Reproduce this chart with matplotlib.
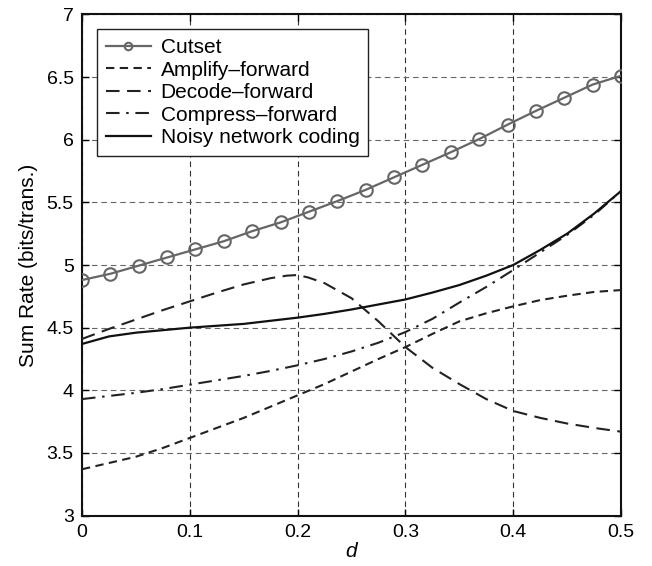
import numpy as np
import matplotlib
matplotlib.use("Agg")
import matplotlib.pyplot as plt

plt.rcParams['font.family'] = ['Liberation Sans', 'DejaVu Sans']

# ---- data ----
d_cut = np.linspace(0, 0.5, 20)
cutset = [4.88, 4.93, 4.995, 5.06, 5.125, 5.19, 5.27, 5.34, 5.425, 5.51,
          5.60, 5.70, 5.80, 5.90, 6.005, 6.12, 6.23, 6.335, 6.44, 6.51]

d_grid = [0, 0.025, 0.05, 0.075, 0.1, 0.125, 0.15, 0.175, 0.2, 0.225, 0.25,
          0.275, 0.3, 0.325, 0.35, 0.375, 0.4, 0.425, 0.45, 0.475, 0.5]

amplify = [3.37, 3.42, 3.47, 3.54, 3.62, 3.70, 3.78, 3.87, 3.96, 4.05, 4.15,
           4.25, 4.345, 4.45, 4.55, 4.615, 4.67, 4.72, 4.755, 4.785, 4.80]

d_df = [0, 0.025, 0.05, 0.075, 0.1, 0.125, 0.15, 0.175, 0.19, 0.2, 0.21, 0.225,
        0.25, 0.275, 0.3, 0.325, 0.35, 0.375, 0.4, 0.425, 0.45, 0.475, 0.5]
decode = [4.41, 4.49, 4.565, 4.64, 4.71, 4.78, 4.845, 4.895, 4.915, 4.92, 4.90, 4.855,
          4.735, 4.55, 4.345, 4.18, 4.05, 3.93, 3.835, 3.78, 3.735, 3.70, 3.67]

compress = [3.93, 3.955, 3.98, 4.01, 4.045, 4.08, 4.115, 4.155, 4.20, 4.25, 4.31,
            4.38, 4.465, 4.57, 4.70, 4.825, 4.96, 5.10, 5.24, 5.40, 5.59]

nnc = [4.37, 4.43, 4.46, 4.48, 4.50, 4.515, 4.53, 4.555, 4.58, 4.61, 4.645,
       4.685, 4.725, 4.78, 4.84, 4.915, 5.00, 5.12, 5.25, 5.41, 5.59]

xticks = [0, 0.1, 0.2, 0.3, 0.4, 0.5]
xticklabels = ['0', '0.1', '0.2', '0.3', '0.4', '0.5']
yticks = [3, 3.5, 4, 4.5, 5, 5.5, 6, 6.5, 7]
yticklabels = ['3', '3.5', '4', '4.5', '5', '5.5', '6', '6.5', '7']

# ---- figure ----
fig = plt.figure(figsize=(6.52, 5.66), dpi=100)
ax = fig.add_axes([0.1258, 0.089, 0.8267, 0.8856])

ax.plot(d_cut, cutset, color='#666666', lw=1.6, marker='o', ms=9,
        mfc='none', mec='#666666', mew=1.5, label='Cutset', zorder=5)
ax.plot(d_grid, amplify, color='#222222', lw=1.5, linestyle=(0, (4, 2.6)),
        label='Amplify\u2013forward', zorder=4)
ax.plot(d_df, decode, color='#222222', lw=1.5, linestyle=(0, (6.5, 3.6)),
        label='Decode\u2013forward', zorder=4)
ax.plot(d_grid, compress, color='#222222', lw=1.5,
        linestyle=(0, (6.5, 3.2, 1.2, 3.2)),
        label='Compress\u2013forward', zorder=4)
ax.plot(d_grid, nnc, color='#111111', lw=1.6, linestyle='-',
        label='Noisy network coding', zorder=4)

ax.set_xlim(0, 0.5)
ax.set_ylim(3, 7)
ax.set_xticks(xticks)
ax.set_xticklabels(xticklabels)
ax.set_yticks(yticks)
ax.set_yticklabels(yticklabels)
ax.tick_params(direction='in', length=5, width=1, labelsize=14,
               top=True, right=True, pad=6)

ax.xaxis.grid(True, color='#333333', linestyle=(0, (5, 3.5)), lw=0.8)
ax.yaxis.grid(True, color='#666666', linestyle=(0, (5, 3.5)), lw=0.8)
for s in ax.spines.values():
    s.set_linewidth(1.5)
    s.set_color('#111111')

ax.set_xlabel('d', fontsize=15, fontstyle='italic', labelpad=1)
ax.set_ylabel('Sum Rate (bits/trans.)', fontsize=15, labelpad=6)

leg = ax.legend(loc='upper left', bbox_to_anchor=(0.0278, 0.970),
                borderaxespad=0, fontsize=15, fancybox=False,
                edgecolor='#222222', framealpha=1, handlelength=2.15,
                handletextpad=0.48, labelspacing=0.17, borderpad=0.42,
                markerscale=0.6)
leg.get_frame().set_linewidth(1.0)
leg.set_zorder(10)

fig.savefig('out.png', dpi=100)
